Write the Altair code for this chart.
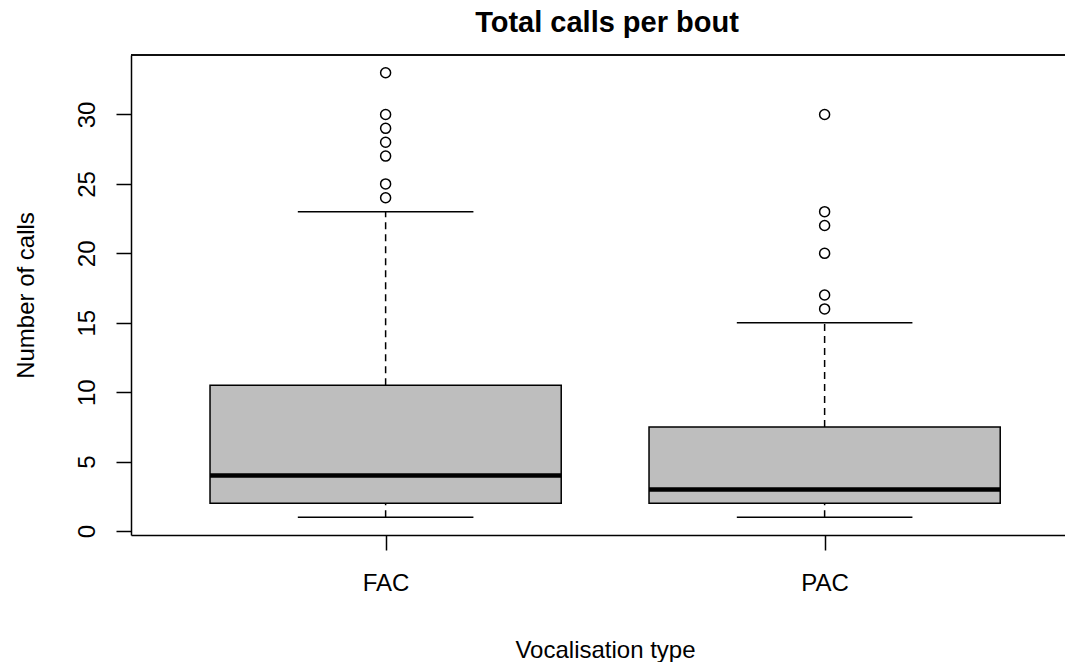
import altair as alt
import pandas as pd

# Summary statistics per vocalisation type (whiskers, hinges, median)
groups = ["FAC", "PAC"]
whisker_low = [1, 1]
q1 = [2, 2]
median = [4, 3]
q3 = [10.5, 7.5]
whisker_high = [23, 15]

# Points beyond the whiskers
outliers_fac = [24, 25, 27, 28, 29, 30, 33]
outliers_pac = [16, 17, 20, 22, 23, 30]

FONT = "Liberation Sans"
PLOT_W = 934
PLOT_H = 480
PX_PER_UNIT = 439          # horizontal pixels per group slot
X_MIN = 0.42               # R-style 4% extension left of the first box
X_MAX = X_MIN + PLOT_W / PX_PER_UNIT
BOX_HALF = 0.4             # boxwex 0.8
CAP_HALF = 0.2             # staplewex 0.5

boxes = pd.DataFrame({
    "group": groups,
    "pos": list(range(1, len(groups) + 1)),
    "lo": whisker_low,
    "q1": q1,
    "med": median,
    "q3": q3,
    "hi": whisker_high,
})
boxes["box_l"] = boxes["pos"] - BOX_HALF
boxes["box_r"] = boxes["pos"] + BOX_HALF
boxes["cap_l"] = boxes["pos"] - CAP_HALF
boxes["cap_r"] = boxes["pos"] + CAP_HALF

out_rows = [{"group": "FAC", "pos": 1, "value": v} for v in outliers_fac] + \
           [{"group": "PAC", "pos": 2, "value": v} for v in outliers_pac]
outs = pd.DataFrame(out_rows)

label_expr = " : ".join(
    [f"datum.value == {i + 1} ? '{g}'" for i, g in enumerate(groups)] + ["''"]
)

x_scale = alt.Scale(domain=[X_MIN, X_MAX], nice=False, zero=False)
y_scale = alt.Scale(domain=[-0.28, 34.28], nice=False, zero=False)

x_axis = alt.Axis(
    values=[1, 2], labelExpr=label_expr, title="Vocalisation type",
    labelBaseline="alphabetic", labelPadding=40,
    titleBaseline="alphabetic", titleX=474, titleY=122,
)
y_axis = alt.Axis(
    values=[0, 5, 10, 15, 20, 25, 30], title="Number of calls",
    labelAngle=270, labelAlign="center", labelBaseline="alphabetic",
    labelPadding=22,
    titleAngle=270, titleAlign="center", titleBaseline="alphabetic",
    titleX=-98, titleY=240,
)

base = alt.Chart(boxes)

whisk_up = base.mark_rule(color="black", strokeWidth=1.5, strokeDash=[7, 5]).encode(
    x=alt.X("pos:Q", scale=x_scale, axis=x_axis),
    y=alt.Y("q3:Q", scale=y_scale, axis=y_axis),
    y2="hi:Q",
)
whisk_dn = base.mark_rule(color="black", strokeWidth=1.5, strokeDash=[7, 5]).encode(
    x="pos:Q", y="lo:Q", y2="q1:Q",
)
cap_hi = base.mark_rule(color="black", strokeWidth=1.5).encode(
    x="cap_l:Q", x2="cap_r:Q", y="hi:Q",
)
cap_lo = base.mark_rule(color="black", strokeWidth=1.5).encode(
    x="cap_l:Q", x2="cap_r:Q", y="lo:Q",
)
box = base.mark_rect(fill="#BEBEBE", stroke="black", strokeWidth=1.5).encode(
    x="box_l:Q", x2="box_r:Q", y="q1:Q", y2="q3:Q",
)
med = base.mark_rule(color="black", strokeWidth=4.5).encode(
    x="box_l:Q", x2="box_r:Q", y="med:Q",
)
pts = alt.Chart(outs).mark_point(
    shape="circle", filled=False, color="black", size=100, strokeWidth=1.5, opacity=1
).encode(x="pos:Q", y="value:Q")

# top edge of the plot frame
frame_top = base.mark_rule(color="black", strokeWidth=1.5).encode(
    x=alt.value(0), x2=alt.value(PLOT_W), y=alt.value(0)
)

chart = alt.layer(
    whisk_up, whisk_dn, cap_hi, cap_lo, box, med, pts, frame_top
).properties(
    width=PLOT_W,
    height=PLOT_H,
    title=alt.TitleParams(
        "Total calls per bout", anchor="middle", frame="group",
        baseline="alphabetic", offset=22, dx=9, dy=29,
        font=FONT, fontSize=29, fontWeight="bold", color="black",
    ),
    autosize=alt.AutoSizeParams(type="none"),
    padding={"left": 131, "top": 55, "right": 0, "bottom": 127},
).configure_view(
    stroke=None
).configure_axis(
    grid=False,
    domainColor="black", domainWidth=1.5,
    tickColor="black", tickWidth=1.5, tickSize=15,
    labelFont=FONT, labelFontSize=24, labelColor="black",
    titleFont=FONT, titleFontSize=24, titleFontWeight="normal", titleColor="black",
)

chart.save("out.html", embed_options={"renderer": "svg", "actions": False})
